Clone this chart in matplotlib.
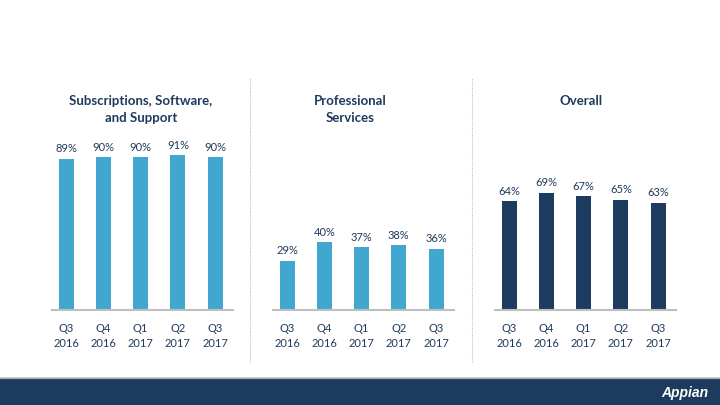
import matplotlib

matplotlib.use("Agg")
from matplotlib import pyplot as plt  # noqa: E402
from matplotlib.patches import Rectangle  # noqa: E402
from matplotlib.lines import Line2D  # noqa: E402

quarters = ["Q3\n2016", "Q4\n2016", "Q1\n2017", "Q2\n2017", "Q3\n2017"]
titles = ["Subscriptions, Software,\nand Support", "Professional\nServices", "Overall"]
subscription_margin = [89, 90, 90, 91, 90]
services_margin = [29, 40, 37, 38, 36]
overall_margin = [64, 69, 67, 65, 63]

LIGHT = "#41A7CF"
NAVY = "#1D3A5F"
TEXT = "#1F3A5C"

plt.rcParams["font.family"] = ["Lato", "DejaVu Sans"]

fig = plt.figure(figsize=(7.2, 4.05), dpi=100)

panels = [
    (subscription_margin, LIGHT, 52 / 720, 141 / 720),
    (services_margin, LIGHT, 273 / 720, 350 / 720),
    (overall_margin, NAVY, 495 / 720, 581 / 720),
]

for (values, color, left, title_x), title in zip(panels, titles):
    ax = fig.add_axes((left, 95 / 405, 181 / 720, 170 / 405))
    xs = range(len(values))
    ax.bar(xs, values, width=0.4, color=color)
    ax.set_ylim(0, 100)
    ax.set_xlim(-0.38, 4.48)
    for x, v in zip(xs, values):
        ax.text(x, v + 2.6, f"{v}%", ha="center", va="bottom", fontsize=8, color=TEXT)
    ax.set_xticks(list(xs), labels=quarters)
    ax.tick_params(axis="x", length=0, pad=9, labelsize=8, labelcolor=TEXT)
    for lbl in ax.get_xticklabels():
        lbl.set_linespacing(1.45)
    ax.set_yticks([])
    for side in ("top", "right", "left"):
        ax.spines[side].set_visible(False)
    ax.spines["bottom"].set_color("#BFBFBF")
    ax.spines["bottom"].set_linewidth(1.5)
    ax.patch.set_alpha(0)
    fig.text(title_x, 1 - 95 / 405, title, ha="center", va="top",
             fontsize=9.5, fontweight="bold", color=TEXT, linespacing=1.45)

# dotted separators between panels
for sx in (250 / 720, 472 / 720):
    fig.add_artist(Line2D([sx, sx], [1 - 362 / 405, 1 - 78 / 405],
                          color="#BFBFBF", linewidth=0.8, linestyle=(0, (1, 1))))

# footer banner
fig.add_artist(Rectangle((0, 0), 1, 27 / 405, color=NAVY, zorder=5))
fig.add_artist(Line2D([0, 1], [27 / 405, 27 / 405], color="#A6A6A6", linewidth=1, zorder=6))
fig.text(0.984, 12 / 405, "Appian", ha="right", va="center", fontsize=10,
         fontweight="bold", fontstyle="italic", color="white", zorder=7,
         family=["Liberation Sans", "DejaVu Sans"])

fig.savefig("out.png", dpi=100)
